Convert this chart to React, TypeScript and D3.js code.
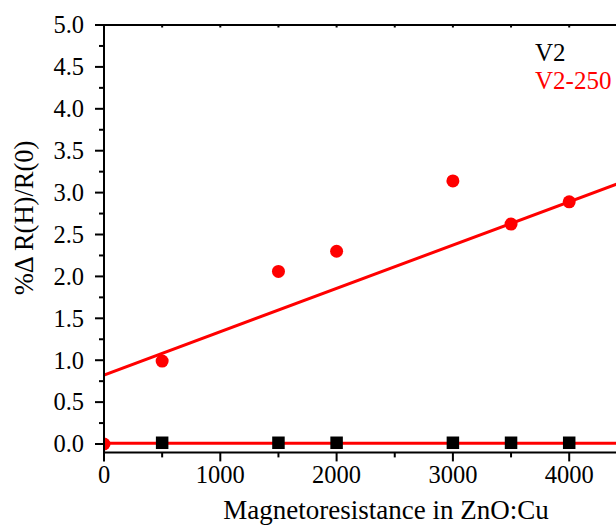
import React, { useEffect, useRef } from "react";
import * as d3 from "d3";

// V2 (black squares)
const v2X = [500, 1500, 2000, 3000, 3500, 4000];
const v2Y = [0.015, 0.015, 0.015, 0.015, 0.015, 0.015];

// V2-250 (red circles)
const v250X = [0, 500, 1500, 2000, 3000, 3500, 4000];
const v250Y = [0.0, 0.99, 2.06, 2.3, 3.14, 2.625, 2.89];

// linear fits (intercept, slope)
const fitV250 = [0.823, 0.000517];
const fitV2 = [0.008, 0];

const xTickLabels = [0, 1000, 2000, 3000, 4000];
const yTickLabels = [0, 0.5, 1, 1.5, 2, 2.5, 3, 3.5, 4, 4.5, 5];

const W = 616;
const H = 528;
const font = '"Liberation Serif", "Times New Roman", serif';

export default function App() {
  const ref = useRef<SVGSVGElement>(null);

  useEffect(() => {
    const svg = d3.select(ref.current);
    svg.selectAll("*").remove();

    const x = d3.scaleLinear().domain([0, 5000]).range([104, 685.5]);
    const y = d3.scaleLinear().domain([-0.1, 5]).range([452.4, 25]);
    const left = x(0), bottom = y(-0.1), top = y(5), right = x(5000);

    svg.append("defs").append("clipPath").attr("id", "plotclip")
      .append("rect").attr("x", left).attr("y", top)
      .attr("width", right - left).attr("height", bottom - top);

    const plot = svg.append("g").attr("clip-path", "url(#plotclip)");

    // fit lines
    const fitLine = (f: number[]) => d3.line<number>()
      .x(d => x(d))
      .y(d => y(f[0] + f[1] * d));
    plot.append("path").datum([0, 5000])
      .attr("d", fitLine(fitV2)).attr("stroke", "#ff0000")
      .attr("stroke-width", 3).attr("fill", "none");
    plot.append("path").datum([0, 5000])
      .attr("d", fitLine(fitV250)).attr("stroke", "#ff0000")
      .attr("stroke-width", 3).attr("fill", "none");

    // squares
    const sq = 12.5;
    plot.selectAll("rect.v2").data(v2X).enter().append("rect")
      .attr("class", "v2")
      .attr("x", d => x(d) - sq / 2)
      .attr("y", (d, i) => y(v2Y[i]) - sq / 2)
      .attr("width", sq).attr("height", sq).attr("fill", "#000");

    // circles
    plot.selectAll("circle.v250").data(v250X).enter().append("circle")
      .attr("class", "v250")
      .attr("cx", d => x(d))
      .attr("cy", (d, i) => y(v250Y[i]))
      .attr("r", 6.5).attr("fill", "#ff0000");

    const axes = svg.append("g").attr("stroke", "#000").attr("stroke-width", 2);
    // frame lines
    axes.append("line").attr("x1", left).attr("x2", left).attr("y1", top - 1).attr("y2", bottom + 1);
    axes.append("line").attr("x1", left - 1).attr("x2", W).attr("y1", bottom).attr("y2", bottom);
    axes.append("line").attr("x1", left - 1).attr("x2", W).attr("y1", top).attr("y2", top);

    // y ticks
    const yMinor = d3.range(0, 5.001, 0.25);
    axes.selectAll("line.yt").data(yMinor).enter().append("line")
      .attr("class", "yt")
      .attr("x1", d => (Math.abs(d * 2 - Math.round(d * 2)) < 1e-6 ? left - 9 : left - 5))
      .attr("x2", left)
      .attr("y1", d => y(d)).attr("y2", d => y(d));

    // x ticks
    const xMinor = d3.range(0, 5001, 500);
    axes.selectAll("line.xt").data(xMinor).enter().append("line")
      .attr("class", "xt")
      .attr("x1", d => x(d)).attr("x2", d => x(d))
      .attr("y1", bottom)
      .attr("y2", d => (d % 1000 === 0 ? bottom + 9 : bottom + 5));
    axes.selectAll("line.xtt").data(xMinor).enter().append("line")
      .attr("class", "xtt")
      .attr("x1", d => x(d)).attr("x2", d => x(d))
      .attr("y1", top).attr("y2", top + 2.5);

    const txt = svg.append("g").style("font-family", font);

    // tick labels
    txt.selectAll("text.yl").data(yTickLabels).enter().append("text")
      .attr("class", "yl")
      .attr("x", 84).attr("y", d => y(d) + 8.3)
      .attr("text-anchor", "end")
      .attr("font-size", 24.5)
      .text(d => d.toFixed(1));
    txt.selectAll("text.xl").data(xTickLabels).enter().append("text")
      .attr("class", "xl")
      .attr("x", d => x(d)).attr("y", 483)
      .attr("text-anchor", "middle")
      .attr("font-size", 24.5)
      .text(d => String(d));

    // axis titles
    txt.append("text")
      .attr("x", 386).attr("y", 519)
      .attr("text-anchor", "middle")
      .attr("font-size", 27)
      .text("Magnetoresistance in ZnO:Cu");
    txt.append("text")
      .attr("transform", "translate(33,218) rotate(-90)")
      .attr("text-anchor", "middle")
      .attr("font-size", 26.5)
      .text("%\u0394 R(H)/R(0)");

    // legend
    txt.append("text").attr("x", 535).attr("y", 61)
      .attr("font-size", 25).attr("fill", "#000")
      .text("V2");
    txt.append("text").attr("x", 535).attr("y", 89)
      .attr("font-size", 25).attr("fill", "#ff0000")
      .text("V2-250");
  }, []);

  return (
    <svg
      ref={ref}
      width={W}
      height={H}
      style={{ position: "absolute", left: 0, top: 0, background: "#fff" }}
    />
  );
}
